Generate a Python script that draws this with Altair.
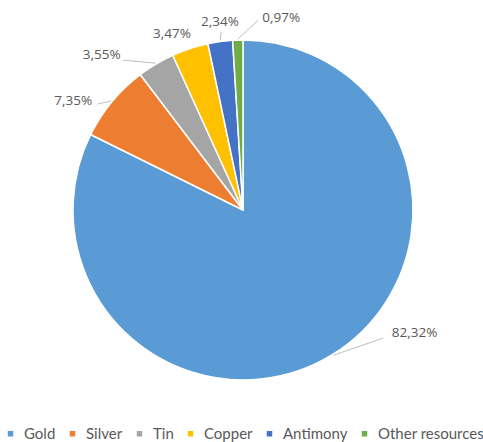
import altair as alt
import pandas as pd

categories = ["Gold", "Silver", "Tin", "Copper", "Antimony", "Other resources"]
shares = [82.32, 7.35, 3.55, 3.47, 2.34, 0.97]
colors = ["#5B9BD5", "#ED7D31", "#A5A5A5", "#FFC000", "#4472C4", "#70AD47"]

# Excel "best fit" label layout: angle shift from slice middle (deg) and radius (px)
label_shift = [-22.6, -6.8, -11.5, -3.8, 0.7, 13.0]
label_radius = [211, 202, 210, 190, 189, 196]
leader_shift = [-15.8, -3.5, -7.9, 0.0, 0.7, 6.2]
leader_radius = [190, 180, 192, 0, 179, 190]

CX, CY, R = 243, 210, 170

df = pd.DataFrame({
    "cat": categories,
    "share": shares,
    "idx": list(range(len(categories))),
    "label": [f"{v:.2f}%".replace(".", ",") for v in shares],
    "lshift": label_shift,
    "lrad": label_radius,
    "eshift": leader_shift,
    "erad": leader_radius,
})

base = alt.Chart(df).transform_window(
    cum="sum(share)", sort=[alt.SortField("idx")], frame=[None, 0]
).transform_calculate(
    mid="(datum.cum - datum.share / 2) * 3.6 * PI / 180",
).transform_calculate(
    la="datum.mid + datum.lshift * PI / 180",
    ea="datum.mid + datum.eshift * PI / 180",
).transform_calculate(
    lx=f"{CX} + datum.lrad * sin(datum.la)",
    ly=f"{CY} - datum.lrad * cos(datum.la)",
    sx=f"{CX} + {R + 1} * sin(datum.mid)",
    sy=f"{CY} - {R + 1} * cos(datum.mid)",
    ex=f"{CX} + datum.erad * sin(datum.ea)",
    ey=f"{CY} - datum.erad * cos(datum.ea)",
)

pie = alt.Chart(df).mark_arc(outerRadius=R, stroke="white", strokeWidth=1.5).encode(
    theta=alt.Theta("share:Q", stack=True, scale=alt.Scale(domain=[0, 100])),
    order=alt.Order("idx:Q"),
    color=alt.Color(
        "cat:N",
        scale=alt.Scale(domain=categories, range=colors),
        legend=alt.Legend(
            title=None,
            orient="none",
            direction="horizontal",
            legendX=3,
            legendY=426,
            symbolType="square",
            symbolSize=30,
            symbolStrokeWidth=0,
            labelFont="Lato",
            labelFontSize=15,
            labelColor="#595959",
            labelOffset=6,
            columnPadding=9,
        ),
    ),
    x=alt.value(CX),
    y=alt.value(CY),
)

leaders = base.transform_filter("datum.erad > 0").mark_rule(
    color="#BFBFBF", strokeWidth=1
).encode(
    x=alt.X("sx:Q", scale=None),
    y=alt.Y("sy:Q", scale=None),
    x2="ex:Q",
    y2="ey:Q",
)

labels = base.mark_text(
    font="Open Sans", fontSize=13.5, color="#595959"
).encode(
    x=alt.X("lx:Q", scale=None),
    y=alt.Y("ly:Q", scale=None),
    text="label:N",
)

chart = alt.layer(pie, leaders, labels).properties(
    width=483, height=442, autosize="none", padding=0
).configure_view(stroke=None).configure_axis(disable=True)

chart.save("out.html", embed_options={"renderer": "svg", "actions": False})
